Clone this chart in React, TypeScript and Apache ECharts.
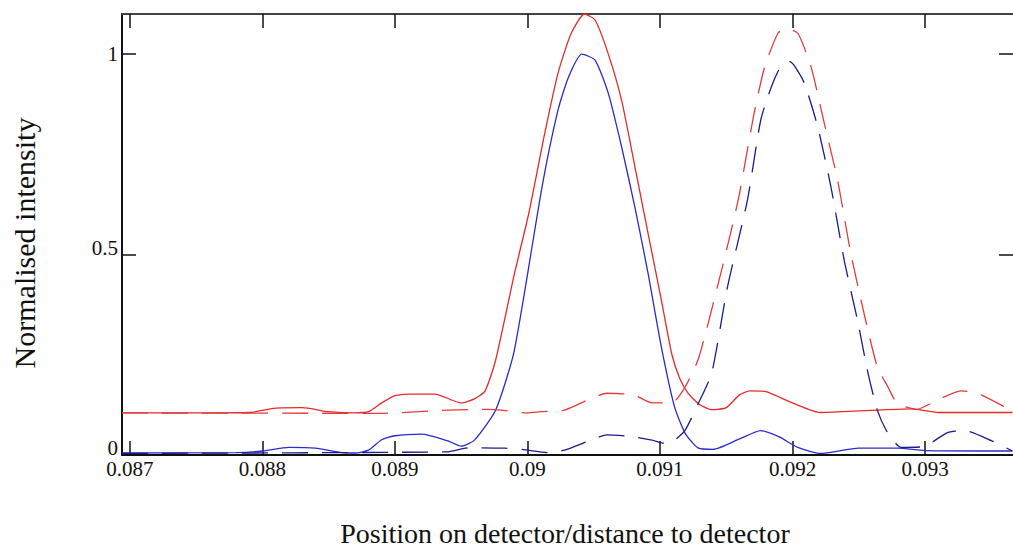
import React, { useEffect, useRef } from "react";
import * as echarts from "echarts";

const xTicks = [0.087, 0.088, 0.089, 0.09, 0.091, 0.092, 0.093];
const yTicks = [0, 0.5, 1];
const xLabel = "Position on detector/distance to detector";
const yLabel = "Normalised intensity";

const redSolid: [number, number][] = [
  [0.08694, 0.105], [0.0875, 0.105], [0.0879, 0.106], [0.0881, 0.117], [0.0883, 0.118],
  [0.0885, 0.108], [0.0887, 0.105], [0.0888, 0.108], [0.0889, 0.13], [0.089, 0.148],
  [0.0891, 0.152], [0.0893, 0.152], [0.0895, 0.13], [0.0896, 0.14], [0.08968, 0.16],
  [0.08976, 0.237], [0.0899, 0.45], [0.09001, 0.603], [0.09013, 0.802], [0.09023, 0.952],
  [0.09033, 1.052], [0.09043, 1.1], [0.09051, 1.085], [0.09061, 1.0], [0.09071, 0.885],
  [0.09081, 0.72], [0.09091, 0.553], [0.09101, 0.387], [0.09109, 0.25], [0.09115, 0.19],
  [0.09121, 0.155], [0.09129, 0.128], [0.09139, 0.113], [0.0915, 0.118], [0.0916, 0.15],
  [0.09168, 0.16], [0.0918, 0.158], [0.092, 0.13], [0.09221, 0.106], [0.0925, 0.11],
  [0.0929, 0.115], [0.0931, 0.106], [0.09366, 0.106],
];

const blueSolid: [number, number][] = [
  [0.08694, 0.005], [0.0878, 0.006], [0.088, 0.01], [0.0882, 0.019], [0.0884, 0.017],
  [0.0886, 0.006], [0.0887, 0.005], [0.0888, 0.012], [0.0889, 0.038], [0.089, 0.048],
  [0.0892, 0.052], [0.0894, 0.035], [0.0895, 0.022], [0.0896, 0.037], [0.08976, 0.112],
  [0.0899, 0.26], [0.09011, 0.669], [0.09023, 0.86], [0.09031, 0.943], [0.09041, 1.0],
  [0.09051, 0.985], [0.09061, 0.902], [0.09071, 0.769], [0.09081, 0.619], [0.09091, 0.453],
  [0.09101, 0.27], [0.09111, 0.12], [0.09119, 0.054], [0.09129, 0.017], [0.0914, 0.014],
  [0.0916, 0.04], [0.09176, 0.061], [0.0919, 0.045], [0.09204, 0.019], [0.09221, 0.004],
  [0.0925, 0.017], [0.0928, 0.017], [0.093, 0.011], [0.09366, 0.01],
];

const redDashed: [number, number][] = [
  [0.08694, 0.105], [0.0889, 0.104], [0.0894, 0.112], [0.0897, 0.114], [0.0898, 0.112],
  [0.09, 0.105], [0.0901, 0.108], [0.09028, 0.112], [0.09048, 0.141], [0.0906, 0.154],
  [0.0908, 0.15], [0.09094, 0.13], [0.09109, 0.13], [0.09119, 0.17], [0.09129, 0.24],
  [0.09144, 0.428], [0.09159, 0.636], [0.09171, 0.852], [0.09179, 0.968], [0.09189, 1.052],
  [0.09195, 1.064], [0.09204, 1.052], [0.09214, 0.968], [0.09224, 0.827], [0.09234, 0.686],
  [0.09244, 0.503], [0.09254, 0.353], [0.09264, 0.22], [0.09272, 0.17], [0.09279, 0.129],
  [0.09294, 0.114], [0.09307, 0.133], [0.09327, 0.16], [0.09339, 0.155], [0.09359, 0.122],
  [0.09366, 0.112],
];

const blueDashed: [number, number][] = [
  [0.08694, 0.004], [0.0894, 0.008], [0.08953, 0.017], [0.08963, 0.018], [0.08983, 0.017],
  [0.08996, 0.014], [0.09016, 0.006], [0.09028, 0.012], [0.09048, 0.037], [0.0906, 0.05],
  [0.09079, 0.046], [0.09094, 0.037], [0.09104, 0.029], [0.09111, 0.037], [0.09119, 0.062],
  [0.09129, 0.129], [0.09139, 0.204], [0.09151, 0.42], [0.09166, 0.636], [0.09176, 0.835],
  [0.09184, 0.918], [0.09191, 0.968], [0.09198, 0.981], [0.09201, 0.973], [0.09209, 0.927],
  [0.09219, 0.819], [0.09229, 0.669], [0.09239, 0.486], [0.09249, 0.337], [0.09257, 0.204],
  [0.09264, 0.112], [0.09272, 0.054], [0.09282, 0.019], [0.09299, 0.021], [0.09317, 0.056],
  [0.0933, 0.061], [0.0935, 0.036], [0.09366, 0.01],
];

const X_MIN = 0.08694;
const X_MAX = 0.093664;
const Y_MIN = 0;
const Y_MAX = 1.1;

const FONT = '"Liberation Serif", "Times New Roman", serif';

export default function App() {
  const ref = useRef<HTMLDivElement>(null);
  useEffect(() => {
    if (!ref.current) return;
    const chart = echarts.init(ref.current, undefined, { renderer: "svg" });
    const fmt = (v: number) => String(parseFloat(Number(v).toFixed(4)));
    const axisLine = (color: string, show = true) => ({
      show,
      onZero: false,
      lineStyle: { color, width: 2 },
    });
    const tick = (vals: number[]) => ({
      show: true,
      inside: true,
      length: 14,
      customValues: vals,
      lineStyle: { color: "#111", width: 1.5 },
    });
    const line = (name: string, data: [number, number][], color: string, dashed: boolean) => ({
      name,
      type: "line",
      data,
      showSymbol: false,
      symbol: "none",
      smooth: 0.2,
      clip: true,
      lineStyle: { color, width: 1.3, type: dashed ? [26, 14] : "solid" },
      silent: true,
    });
    const labelStyle = { color: "#111", fontFamily: FONT, fontSize: 21, lineHeight: 16 };
    chart.setOption({
      animation: false,
      backgroundColor: "#fff",
      grid: { left: 122, top: 14, right: -3, bottom: 93, containLabel: false },
      xAxis: [
        {
          type: "value",
          position: "bottom",
          min: X_MIN,
          max: X_MAX,
          axisLine: axisLine("#111"),
          axisTick: tick(xTicks),
          axisLabel: {
            customValues: xTicks,
            formatter: fmt,
            ...labelStyle,
            margin: 6,
          },
          splitLine: { show: false },
        },
        {
          type: "value",
          position: "top",
          min: X_MIN,
          max: X_MAX,
          axisLine: axisLine("#444"),
          axisTick: tick(xTicks),
          axisLabel: { show: false },
          splitLine: { show: false },
        },
      ],
      yAxis: [
        {
          type: "value",
          position: "left",
          min: Y_MIN,
          max: Y_MAX,
          axisLine: axisLine("#111"),
          axisTick: tick(yTicks),
          axisLabel: {
            customValues: yTicks,
            formatter: (v: number) => (v === 1 ? `{n|${fmt(v)}}` : `{u|${fmt(v)}}`),
            rich: {
              n: { ...labelStyle },
              u: { ...labelStyle, padding: [0, 0, 14, 0] },
            },
            margin: 4,
          },
          splitLine: { show: false },
        },
        {
          type: "value",
          position: "right",
          min: Y_MIN,
          max: Y_MAX,
          axisLine: axisLine("#444", false),
          axisTick: tick(yTicks),
          axisLabel: { show: false },
          splitLine: { show: false },
        },
      ],
      series: [
        line("Red solid", redSolid, "#e42a2a", false),
        line("Blue solid", blueSolid, "#2a2ad0", false),
        line("Red dashed", redDashed, "#e43c3c", true),
        line("Blue dashed", blueDashed, "#1c1c8c", true),
      ],
      graphic: [
        {
          type: "text",
          x: 565,
          y: 533,
          silent: true,
          style: {
            text: xLabel,
            font: `28px ${FONT}`,
            fill: "#111",
            textAlign: "center",
            textVerticalAlign: "middle",
          },
        },
        {
          type: "text",
          x: 24,
          y: 243,
          rotation: Math.PI / 2,
          silent: true,
          style: {
            text: yLabel,
            font: `30px ${FONT}`,
            fill: "#111",
            textAlign: "center",
            textVerticalAlign: "middle",
          },
        },
      ],
    });
    return () => chart.dispose();
  }, []);
  return (
    <div
      ref={ref}
      style={{ position: "fixed", left: 0, top: 0, width: 1013, height: 548, background: "#fff" }}
    />
  );
}
